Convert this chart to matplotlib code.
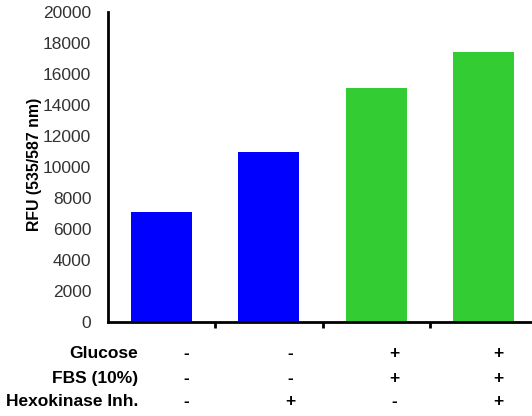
import matplotlib
matplotlib.use("Agg")
import matplotlib.pyplot as plt

# data
values = [7100, 11000, 15100, 17400]
bar_colors = ["#0000FF", "#0000FF", "#33CC33", "#33CC33"]
row_names = ["Glucose", "FBS (10%)", "Hexokinase Inh."]
row_signs = [
    ["-", "-", "+", "+"],
    ["-", "-", "+", "+"],
    ["-", "+", "-", "+"],
]
yticks = [0, 2000, 4000, 6000, 8000, 10000, 12000, 14000, 16000, 18000, 20000]

plt.rcParams["font.family"] = ["Liberation Sans", "DejaVu Sans"]

fig = plt.figure(figsize=(5.32, 4.16), dpi=100)
ax = fig.add_axes([108 / 532, 1 - 322 / 416, 429 / 532, 310 / 416])

x = list(range(len(values)))
ax.bar(x, values, width=0.57, color=bar_colors, edgecolor="none")

ax.set_xlim(-0.5, 3.5)
ax.set_ylim(0, 20000)
ax.set_yticks(yticks)
ax.set_yticklabels([str(v) for v in yticks], fontsize=12.5, color="#333333")
ax.tick_params(axis="y", length=0, pad=12)
ax.set_xticks([0.5, 1.5, 2.5])
ax.set_xticklabels([])
ax.tick_params(axis="x", direction="out", length=4, width=2, color="black")

for side in ["top", "right"]:
    ax.spines[side].set_visible(False)
for side in ["left", "bottom"]:
    ax.spines[side].set_linewidth(2)

ax.set_ylabel("RFU (535/587 nm)", fontsize=11.4, fontweight="bold")
ax.yaxis.set_label_coords(-0.155, 0.51)

# condition table under the axis
row_y = [-0.103, -0.181, -0.258]
for name, signs, yy in zip(row_names, row_signs, row_y):
    ax.text(-0.22, yy, name, transform=ax.get_xaxis_transform(), ha="right", va="center",
            fontsize=12.5, fontweight="bold", clip_on=False)
    for i, s in enumerate(signs):
        ax.text(i + 0.23 - 0.03 * i, yy, s, transform=ax.get_xaxis_transform(), ha="center",
                va="center", fontsize=12.5, fontweight="bold", clip_on=False)

plt.savefig("out.png", dpi=100)
